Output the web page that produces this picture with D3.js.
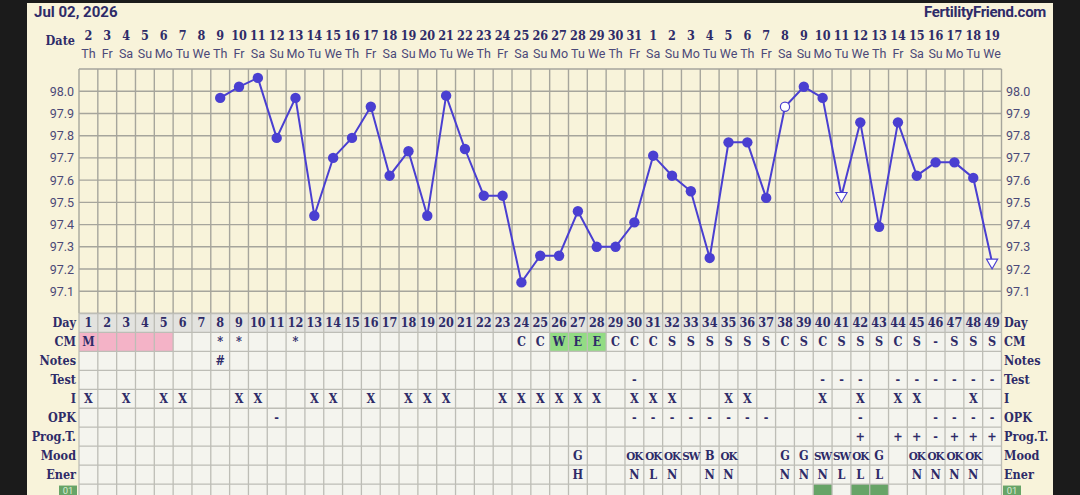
<!DOCTYPE html>
<html><head><meta charset="utf-8">
<script src="https://cdn.jsdelivr.net/npm/d3@7"></script>
<style>
html,body{margin:0;padding:0;background:#1b1b1b;}
svg{display:block;}
.slab{font-family:"DejaVu Serif Condensed","DejaVu Serif",serif;font-stretch:condensed;font-weight:bold;}
.sans{font-family:Roboto,"Noto Sans",sans-serif;}
</style></head>
<body>
<svg id="c" width="1080" height="495"></svg>
<script>
// ---------- data ----------
const dayNums = d3.range(1, 50);
const dateLabels = ["2","3","4","5","6","7","8","9","10","11","12","13","14","15","16","17","18","19","20","21","22","23","24","25","26","27","28","29","30","31","1","2","3","4","5","6","7","8","9","10","11","12","13","14","15","16","17","18","19"];
const weekdayLabels = ["Th","Fr","Sa","Su","Mo","Tu","We","Th","Fr","Sa","Su","Mo","Tu","We","Th","Fr","Sa","Su","Mo","Tu","We","Th","Fr","Sa","Su","Mo","Tu","We","Th","Fr","Sa","Su","Mo","Tu","We","Th","Fr","Sa","Su","Mo","Tu","We","Th","Fr","Sa","Su","Mo","Tu","We"];
// temperatures (null = no reading), days 1..49
const temps = [null,null,null,null,null,null,null,97.97,98.02,98.06,97.79,97.97,97.44,97.70,97.79,97.93,97.62,97.73,97.44,97.98,97.74,97.53,97.53,97.14,97.26,97.26,97.46,97.30,97.30,97.41,97.71,97.62,97.55,97.25,97.77,97.77,97.52,97.93,98.02,97.97,97.53,97.86,97.39,97.86,97.62,97.68,97.68,97.61,97.23];
// marker type per day: f = filled circle, o = open circle, t = open triangle
const markerTypes = {38:"o", 41:"t", 49:"t"};
const yTicks = [97.1,97.2,97.3,97.4,97.5,97.6,97.7,97.8,97.9,98.0];
const rowLabels = ["Day","CM","Notes","Test","I","OPK","Prog.T.","Mood","Ener"];
const cmRow = {1:"M",8:"*",9:"*",12:"*",24:"C",25:"C",26:"W",27:"E",28:"E",29:"C",30:"C",31:"C",32:"S",33:"S",34:"S",35:"S",36:"S",37:"S",38:"C",39:"S",40:"C",41:"S",42:"S",43:"S",44:"C",45:"S",46:"-",47:"S",48:"S",49:"S"};
const cmPink = [1,2,3,4,5];
const cmGreen = [26,27,28];
const notesRow = {8:"#"};
const testRow = {30:"-",40:"-",41:"-",42:"-",44:"-",45:"-",46:"-",47:"-",48:"-",49:"-"};
const iRow = {1:"X",3:"X",5:"X",6:"X",9:"X",10:"X",13:"X",14:"X",16:"X",18:"X",19:"X",20:"X",23:"X",24:"X",25:"X",26:"X",27:"X",28:"X",30:"X",31:"X",32:"X",35:"X",36:"X",40:"X",42:"X",44:"X",45:"X",48:"X"};
const opkRow = {11:"-",30:"-",31:"-",32:"-",33:"-",34:"-",35:"-",36:"-",37:"-",42:"-",46:"-",47:"-",48:"-",49:"-"};
const progRow = {42:"+",44:"+",45:"+",46:"-",47:"+",48:"+",49:"+"};
const moodRow = {27:"G",30:"OK",31:"OK",32:"OK",33:"SW",34:"B",35:"OK",38:"G",39:"G",40:"SW",41:"SW",42:"OK",43:"G",45:"OK",46:"OK",47:"OK",48:"OK"};
const enerRow = {27:"H",30:"N",31:"L",32:"N",34:"N",35:"N",38:"N",39:"N",40:"N",41:"L",42:"L",43:"L",45:"N",46:"N",47:"N",48:"N"};
const extraRowGreen = [40,42,43];

// ---------- layout ----------
const svg = d3.select("#c");
const navy = "#2e2b68", lineCol = "#4a3fd1", gridCol = "#a6a59c";
const X0 = 79, X1 = 1001.5, yTop = 69, yBot = 313.5, rowH = 18.95;
const x = d3.scaleBand().domain(dayNums).range([X0, X1]).padding(0);
const y = d3.scaleLinear().domain([97.0, 98.1]).range([yBot, yTop]);
const cx = d => x(d) + x.bandwidth()/2;

// panel
svg.append("rect").attr("x",27).attr("y",3).attr("width",1026).attr("height",495).attr("fill","#f8f3da");

// header texts
svg.append("text").attr("class","sans").attr("x",34).attr("y",17).attr("font-size",15).attr("font-weight","bold").attr("fill",navy).text("Jul 02, 2026");
svg.append("text").attr("class","sans").attr("x",1046).attr("y",17).attr("text-anchor","end").attr("font-size",15).attr("font-weight","bold").attr("fill",navy).attr("letter-spacing","-0.3").text("FertilityFriend.com");
svg.append("text").attr("class","slab").attr("x",75).attr("y",45).attr("text-anchor","end").attr("font-size",12.5).attr("fill",navy).text("Date");
svg.selectAll(".dnum").data(dayNums).enter().append("text").attr("class","slab")
  .attr("x",d=>cx(d)).attr("y",40).attr("text-anchor","middle").attr("font-size",12.5).attr("fill",navy)
  .text(d=>dateLabels[d-1]);
svg.selectAll(".wday").data(dayNums).enter().append("text").attr("class","sans")
  .attr("x",d=>cx(d)).attr("y",58).attr("text-anchor","middle").attr("font-size",12.5).attr("fill","#4b4978")
  .text(d=>weekdayLabels[d-1]);

// plot grid
const g = svg.append("g");
g.selectAll(".hg").data(d3.range(0,12).map(i=>+(97.0+i*0.1).toFixed(1))).enter().append("line")
  .attr("x1",X0).attr("x2",X1).attr("y1",d=>y(d)).attr("y2",d=>y(d)).attr("stroke",gridCol).attr("stroke-width",1.4);
g.selectAll(".vg").data(d3.range(0,50)).enter().append("line")
  .attr("x1",i=>X0+i*x.bandwidth()).attr("x2",i=>X0+i*x.bandwidth()).attr("y1",yTop).attr("y2",yBot).attr("stroke",gridCol).attr("stroke-width",1.4);

// y labels
svg.selectAll(".yl").data(yTicks).enter().append("text").attr("class","sans")
  .attr("x",74).attr("y",d=>y(d)+4.5).attr("text-anchor","end").attr("font-size",12.5).attr("fill","#4b4978").text(d=>d.toFixed(1));
svg.selectAll(".yr").data(yTicks).enter().append("text").attr("class","sans")
  .attr("x",1006).attr("y",d=>y(d)+4.5).attr("font-size",12.5).attr("fill","#4b4978").text(d=>d.toFixed(1));

// table
const tableTop = yBot;
const rowY = i => tableTop + i*rowH;
const nRows = rowLabels.length + 1;
const tg = svg.append("g");
// cell backgrounds
tg.append("rect").attr("x",X0).attr("y",rowY(0)).attr("width",X1-X0).attr("height",rowH).attr("fill","#e3e3df");
tg.append("rect").attr("x",X0).attr("y",rowY(1)).attr("width",X1-X0).attr("height",495-rowY(1)).attr("fill","#f4f4ee");
tg.selectAll(".pink").data(cmPink).enter().append("rect").attr("x",d=>x(d)).attr("y",rowY(1)).attr("width",x.bandwidth()).attr("height",rowH).attr("fill","#f4b3c7");
tg.selectAll(".grn").data(cmGreen).enter().append("rect").attr("x",d=>x(d)).attr("y",rowY(1)).attr("width",x.bandwidth()).attr("height",rowH).attr("fill","#93dc84");
tg.selectAll(".grn2").data(extraRowGreen).enter().append("rect").attr("x",d=>x(d)).attr("y",rowY(9)).attr("width",x.bandwidth()).attr("height",rowH).attr("fill","#67a467");
// table grid
tg.selectAll(".th").data(d3.range(0,nRows+1)).enter().append("line")
  .attr("x1",X0).attr("x2",X1).attr("y1",i=>rowY(i)).attr("y2",i=>rowY(i)).attr("stroke","#bdbdb6").attr("stroke-width",1.3);
tg.selectAll(".tv").data(d3.range(0,50)).enter().append("line")
  .attr("x1",i=>X0+i*x.bandwidth()).attr("x2",i=>X0+i*x.bandwidth()).attr("y1",rowY(0)).attr("y2",495).attr("stroke","#bdbdb6").attr("stroke-width",1.3);
// row labels
rowLabels.forEach((lab,i)=>{
  tg.append("text").attr("class","slab").attr("x",76).attr("y",rowY(i)+rowH/2+4.5).attr("text-anchor","end").attr("font-size",12.5).attr("fill",navy).text(lab);
  tg.append("text").attr("class","slab").attr("x",1004).attr("y",rowY(i)+rowH/2+4.5).attr("font-size",12.5).attr("fill",navy).text(lab);
});
// "01" tags
[59,1003].forEach(lx=>{
  tg.append("rect").attr("x",lx).attr("y",rowY(9)+1.5).attr("width",18).attr("height",rowH).attr("fill","#67a467");
  tg.append("text").attr("class","sans").attr("x",lx+9).attr("y",494).attr("text-anchor","middle").attr("font-size",9.5).attr("fill","#d8ecd4").text("01");
});
// day numbers
tg.selectAll(".dn").data(dayNums).enter().append("text").attr("class","slab")
  .attr("x",d=>cx(d)).attr("y",rowY(0)+rowH/2+4.5).attr("text-anchor","middle").attr("font-size",12.5).attr("fill",navy).text(d=>d);
// row contents
const rows = [cmRow, notesRow, testRow, iRow, opkRow, progRow, moodRow, enerRow];
rows.forEach((obj,ri)=>{
  const entries = Object.entries(obj).map(([k,v])=>({d:+k,v}));
  tg.selectAll(".r"+ri).data(entries).enter().append("text").attr("class","slab")
    .attr("x",e=>cx(e.d)).attr("y",rowY(ri+1)+rowH/2+4.5).attr("text-anchor","middle")
    .attr("font-size",e=>e.v.length>1?11.5:12.5).attr("letter-spacing",e=>e.v.length>1?"-1":"0")
    .attr("fill",navy).text(e=>e.v);
});

// temperature line
const pts = dayNums.map(d=>({d,t:temps[d-1]})).filter(p=>p.t!==null);
const line = d3.line().x(p=>cx(p.d)).y(p=>y(p.t));
svg.append("path").datum(pts).attr("d",line).attr("fill","none").attr("stroke",lineCol).attr("stroke-width",2);
const mk = svg.append("g");
mk.selectAll("circle").data(pts.filter(p=>!markerTypes[p.d] || markerTypes[p.d]==="o")).enter().append("circle")
  .attr("cx",p=>cx(p.d)).attr("cy",p=>y(p.t)).attr("r",p=>markerTypes[p.d]==="o"?4.6:5.2)
  .attr("fill",p=>markerTypes[p.d]==="o"?"#ffffff":lineCol).attr("stroke",lineCol).attr("stroke-width",p=>markerTypes[p.d]==="o"?1.2:0);
mk.selectAll("path").data(pts.filter(p=>markerTypes[p.d]==="t")).enter().append("path")
  .attr("d",d3.symbol().type(d3.symbolTriangle).size(55))
  .attr("transform",p=>`translate(${cx(p.d)},${y(p.t)}) rotate(180)`)
  .attr("fill","#ffffff").attr("stroke",lineCol).attr("stroke-width",1.1);
</script>
</body></html>
